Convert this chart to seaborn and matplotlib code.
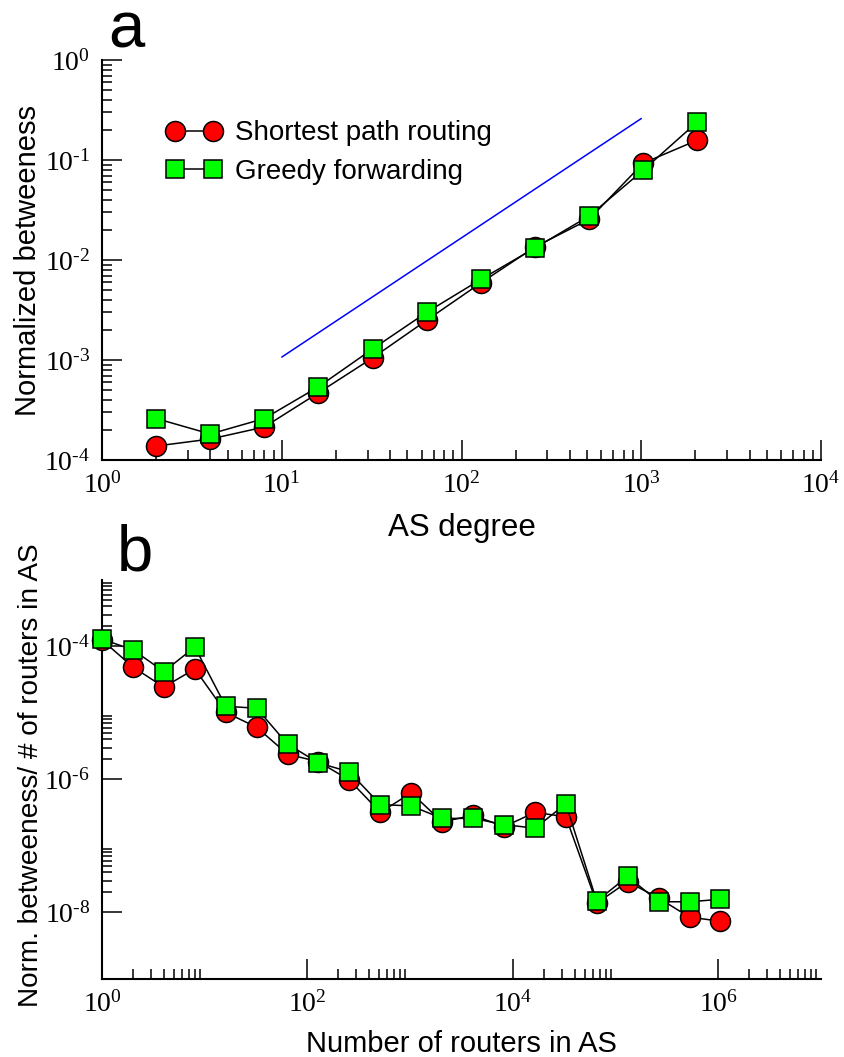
import numpy as np
import matplotlib
matplotlib.use("Agg")
import matplotlib.pyplot as plt
import seaborn as sns
from matplotlib.ticker import LogLocator, FuncFormatter, NullFormatter

# ---- panel a: normalized betweenness vs AS degree ----
as_degree = [2, 4, 8, 16, 32, 64, 128, 256, 512, 1024, 2048]
bc_shortest = [1.38e-4, 1.62e-4, 2.14e-4, 4.7e-4, 1.05e-3, 2.5e-3,
               5.9e-3, 1.35e-2, 2.55e-2, 9.3e-2, 0.158]
bc_greedy = [2.6e-4, 1.82e-4, 2.6e-4, 5.4e-4, 1.29e-3, 3.0e-3,
             6.4e-3, 1.32e-2, 2.75e-2, 7.9e-2, 0.24]
guide_x = [10, 1000]
guide_y = [1.07e-3, 0.26]

# ---- panel b: betweenness per router vs AS size ----
n_routers = [1, 2, 4, 8, 16, 32, 64, 128, 256, 512, 1024, 2048, 4096, 8192,
             16384, 32768, 65536, 131072, 262144, 524288, 1048576]
bcr_shortest = [1.25e-4, 4.9e-5, 2.45e-5, 4.6e-5, 1.02e-5, 6.1e-6, 2.4e-6,
                1.85e-6, 9.8e-7, 3.2e-7, 6.3e-7, 2.3e-7, 2.9e-7, 1.95e-7,
                3.2e-7, 2.75e-7, 1.38e-8, 2.9e-8, 1.65e-8, 8.5e-9, 7.4e-9]
bcr_greedy = [1.29e-4, 8.9e-5, 4.2e-5, 9.8e-5, 1.26e-5, 1.18e-5, 3.4e-6,
              1.78e-6, 1.3e-6, 4.2e-7, 4.0e-7, 2.6e-7, 2.6e-7, 2.1e-7,
              1.85e-7, 4.3e-7, 1.48e-8, 3.5e-8, 1.45e-8, 1.45e-8, 1.58e-8]

labels = ["Shortest path routing", "Greedy forwarding"]

sns.set_style("ticks")
plt.rcParams["font.family"] = ["Liberation Sans", "DejaVu Sans"]
plt.rcParams["text.color"] = "black"
plt.rcParams["axes.labelcolor"] = "black"
plt.rcParams["xtick.color"] = "black"
plt.rcParams["ytick.color"] = "black"
plt.rcParams["axes.edgecolor"] = "black"
plt.rcParams["mathtext.fontset"] = "custom"
plt.rcParams["mathtext.rm"] = "Liberation Serif"
plt.rcParams["mathtext.it"] = "Liberation Serif:italic"
plt.rcParams["mathtext.bf"] = "Liberation Serif:bold"

fig = plt.figure(figsize=(8.44, 10.57), dpi=100)
ax_a = fig.add_axes([0.1209, 0.5648, 0.8519, 0.3784])
ax_b = fig.add_axes([0.1209, 0.0738, 0.8519, 0.3775])

line_kw = dict(color="black", linewidth=1.1, markeredgecolor="black",
               markeredgewidth=1.1, clip_on=False, errorbar=None, legend=False)


def pow_fmt(v, pos):
    # plain hyphen for the minus sign, as in the original figure
    e = int(round(np.log10(v)))
    sign = r"\text{-}" if e < 0 else ""
    return r"$\mathrm{10^{%s%d}}$" % (sign, abs(e))


def style_axis(ax, base):
    ax.set_xscale("log")
    ax.set_yscale("log")
    for s in ["top", "right"]:
        ax.spines[s].set_visible(False)
    for s in ["left", "bottom"]:
        ax.spines[s].set_linewidth(1.5)
    subs = [2, 3, 4, 5, 6, 7, 8, 9]
    for axis in (ax.xaxis, ax.yaxis):
        axis.set_major_locator(LogLocator(base=base, subs=(1.0,), numticks=50))
        axis.set_minor_locator(LogLocator(base=base, subs=subs, numticks=50))
        axis.set_major_formatter(FuncFormatter(pow_fmt))
        axis.set_minor_formatter(NullFormatter())
    ax.tick_params(which="major", direction="in", length=14.4, width=1.1,
                   labelsize=20)
    ax.tick_params(which="minor", direction="in", length=7.2, width=1.1)
    ax.tick_params(axis="x", which="major", pad=9)
    ax.tick_params(axis="y", which="major", pad=8.6)


# panel a
sns.lineplot(x=guide_x, y=guide_y, ax=ax_a, color="blue", linewidth=1.1,
             errorbar=None, legend=False)
sns.lineplot(x=as_degree, y=bc_shortest, ax=ax_a, marker="o", markersize=14.4,
             markerfacecolor="red", label=labels[0], zorder=3, **line_kw)
sns.lineplot(x=as_degree, y=bc_greedy, ax=ax_a, marker="s", markersize=12.6,
             markerfacecolor="#00FF00", label=labels[1], zorder=4, **line_kw)
style_axis(ax_a, 10)
ax_a.set_xlim(1, 1e4)
ax_a.set_ylim(1e-4, 1)
ax_a.set_xlabel("AS degree", fontsize=22.5)
ax_a.set_ylabel("Normalized betweeness", fontsize=21)
ax_a.xaxis.set_label_coords(0.5, -0.1325)
ax_a.yaxis.set_label_coords(-0.083, 0.5)
handles = [l for l in ax_a.get_lines() if not l.get_label().startswith("_")]
ax_a.legend(handles=handles, labels=labels, loc="upper left",
            bbox_to_anchor=(0.0739, 0.877), frameon=False, fontsize=20,
            numpoints=2, handlelength=1.97, handletextpad=0.5,
            labelspacing=0.46, borderpad=0.4, borderaxespad=0)

# panel b
sns.lineplot(x=n_routers, y=bcr_shortest, ax=ax_b, marker="o", markersize=14.4,
             markerfacecolor="red", zorder=3, **line_kw)
sns.lineplot(x=n_routers, y=bcr_greedy, ax=ax_b, marker="s", markersize=12.6,
             markerfacecolor="#00FF00", zorder=4, **line_kw)
style_axis(ax_b, 100)
ax_b.set_xlim(1, 1e7)
ax_b.set_ylim(1e-9, 1e-3)
ax_b.set_xlabel("Number of routers in AS", fontsize=21)
ax_b.set_ylabel("Norm. betweeness/ # of routers in AS", fontsize=20.2)
ax_b.xaxis.set_label_coords(0.5, -0.128)
ax_b.yaxis.set_label_coords(-0.081, 0.51)

fig.text(0.128, 0.9555, "a", fontsize=47, ha="left", va="baseline")
fig.text(0.138, 0.4607, "b", fontsize=47, ha="left", va="baseline")

fig.savefig("out.png", dpi=100)
